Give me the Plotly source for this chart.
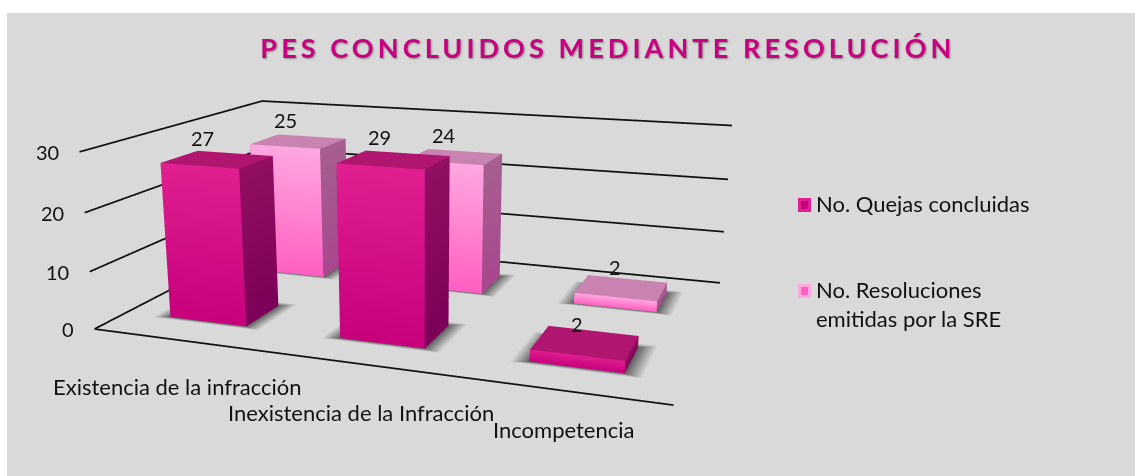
"""PES concluidos mediante resolución: barras 3D en perspectiva (Mesh3d)."""
import plotly.graph_objects as go

TITLE = "PES CONCLUIDOS MEDIANTE RESOLUCIÓN"
CATEGORIES = ["Existencia de la infracción", "Inexistencia de la Infracción", "Incompetencia"]
QUEJAS = [27, 29, 2]
RESOLUCIONES = [25, 24, 2]
TICKS = [0, 10, 20, 30]
LEGEND_NAMES = ["No. Quejas concluidas", "No. Resoluciones<br>emitidas por la SRE"]

BG = "#d9d9d9"
INK = "#111111"
FONT = "Lato, 'Open Sans', sans-serif"
MAGENTA = "#c9007f"

# colores por serie: cara frontal (arriba, abajo), lateral (arriba, abajo), tapa
DARK = dict(front=("#e01f90", "#c8007c"), side=("#910f62", "#7c0058"), top="#b0166f")
LIGHT = dict(front=("#ffa8e0", "#ff5fc2"), side=("#a6608f", "#a8478f"), top="#c883b1")

# la cámara de Plotly tiene fov fijo de 45°: para una perspectiva tan suave hace falta
# un viewport alto, así que la figura sobresale de la ventana y se recorta
WIDTH, HEIGHT = 1128, 950
LEFT, TOP = 7, -203
HALF_W, HALF_D = 0.23, 0.095
ROW_Y = [0.25, 0.745]


def paper_x(px):
    return (px - LEFT) / WIDTH


def paper_y(py):
    return 1 - (py - TOP) / HEIGHT


def bars_mesh(values, row_y, colors, name):
    """Un Mesh3d con una caja por categoría; caras separadas para poder degradar."""
    xs, ys, zs, ii, jj, kk, vc = [], [], [], [], [], [], []

    def quad(corners, cols):
        n = len(xs)
        for (x, y, z), c in zip(corners, cols):
            xs.append(x), ys.append(y), zs.append(z), vc.append(c)
        ii.extend([n, n])
        jj.extend([n + 1, n + 2])
        kk.extend([n + 2, n + 3])

    for cat, v in enumerate(values):
        x0, x1 = cat + 0.5 - HALF_W, cat + 0.5 + HALF_W
        y0, y1 = row_y - HALF_D, row_y + HALF_D
        ft, fb = colors["front"]
        st, sb = colors["side"]
        quad([(x0, y0, 0), (x1, y0, 0), (x1, y0, v), (x0, y0, v)], [fb, fb, ft, ft])
        quad([(x1, y0, 0), (x1, y1, 0), (x1, y1, v), (x1, y0, v)], [sb, sb, st, st])
        quad([(x0, y1, 0), (x0, y0, 0), (x0, y0, v), (x0, y1, v)], [sb, sb, st, st])
        quad([(x0, y0, v), (x1, y0, v), (x1, y1, v), (x0, y1, v)], [colors["top"]] * 4)
    return go.Mesh3d(x=xs, y=ys, z=zs, i=ii, j=jj, k=kk, vertexcolor=vc, name=name,
                     lighting=dict(ambient=1, diffuse=0, specular=0, fresnel=0),
                     hoverinfo="name")


def shadow_mesh(row_y):
    """Sombra difusa sobre el suelo: anillo de gris oscuro hacia el fondo."""
    xs, ys, zs, ii, jj, kk, vc = [], [], [], [], [], [], []
    for cat in range(len(CATEGORIES)):
        x0, x1 = cat + 0.5 - HALF_W, cat + 0.5 + HALF_W
        y0, y1 = row_y - HALF_D, row_y + HALF_D
        inner = [(x0, y0), (x1, y0), (x1, y1), (x0, y1)]
        outer = [(x0 - 0.09, y0 - 0.018), (x1 + 0.09, y0 - 0.018),
                 (x1 + 0.09, y1 + 0.03), (x0 - 0.09, y1 + 0.03)]
        n = len(xs)
        for (x, y) in inner + outer:
            xs.append(x), ys.append(y), zs.append(0.03)
        vc.extend(["#5f5f5f"] * 4 + [BG] * 4)
        for a in range(4):
            b = (a + 1) % 4
            ii.extend([n + a, n + a])
            jj.extend([n + b, n + 4 + b])
            kk.extend([n + 4 + b, n + 4 + a])
    return go.Mesh3d(x=xs, y=ys, z=zs, i=ii, j=jj, k=kk, vertexcolor=vc, hoverinfo="skip",
                     lighting=dict(ambient=1, diffuse=0, specular=0, fresnel=0))


def frame_lines():
    xs, ys, zs = [], [], []
    for z in TICKS:
        xs += [0, 0, 3, None]
        ys += [0, 1, 1, None]
        zs += [z, z, z, None]
    xs += [0, 3]
    ys += [0, 0]
    zs += [0, 0]
    return go.Scatter3d(x=xs, y=ys, z=zs, mode="lines", line=dict(color=INK, width=3.5),
                        hoverinfo="skip", showlegend=False)


def scene_note(x, y, z, text, size, dx=0, dy=0, anchor="center"):
    return dict(x=x, y=y, z=z, text=text, showarrow=False, xanchor=anchor, xshift=dx, yshift=dy,
                font=dict(family=FONT, size=size, color=INK))


def paper_note(px, py, text, font, anchor="center", align="left"):
    return dict(x=paper_x(px), y=paper_y(py), xref="paper", yref="paper", text=text, showarrow=False,
                xanchor=anchor, yanchor="middle", align=align, font=font)


def swatch(y0, y1, inset, color):
    return dict(type="rect", xref="paper", yref="paper", line_width=0, fillcolor=color,
                x0=paper_x(798 + inset), x1=paper_x(811 - inset),
                y0=paper_y(y1 - inset), y1=paper_y(y0 + inset))


notes = [scene_note(0, 0, t, str(t), 20, dx=-18.5, anchor="right") for t in TICKS]
QUEJAS_SHIFT = [(-15, 21), (-15, 23), (-8, 19)]
RESOL_SHIFT = [(-13, 21), (-11, 22), (-7, 21)]
CAT_SHIFT = [(0, -47), (3, -49), (2, -39)]
for i, (v, s) in enumerate(zip(QUEJAS, QUEJAS_SHIFT)):
    notes.append(scene_note(i + 0.5, ROW_Y[0], v, str(v), 20, s[0], s[1]))
for i, (v, s) in enumerate(zip(RESOLUCIONES, RESOL_SHIFT)):
    notes.append(scene_note(i + 0.5, ROW_Y[1], v, str(v), 20, s[0], s[1]))
for i, (c, s) in enumerate(zip(CATEGORIES, CAT_SHIFT)):
    notes.append(scene_note(i + 0.5, 0, 0, c, 22, s[0], s[1]))

fig = go.Figure([
    shadow_mesh(ROW_Y[1]), shadow_mesh(ROW_Y[0]),
    bars_mesh(RESOLUCIONES, ROW_Y[1], LIGHT, "No. Resoluciones emitidas por la SRE"),
    bars_mesh(QUEJAS, ROW_Y[0], DARK, "No. Quejas concluidas"),
    frame_lines(),
])

hidden = dict(visible=False, showgrid=False, zeroline=False, showspikes=False, autorange=False)
legend_font = dict(family=FONT, size=22, color=INK)
fig.update_layout(
    width=WIDTH, height=HEIGHT, margin=dict(l=0, r=0, t=0, b=0),
    paper_bgcolor=BG, showlegend=False, font=dict(family=FONT, color=INK),
    scene=dict(
        domain=dict(x=[0, 0.7351], y=[0, 1]),
        xaxis=dict(hidden, range=[0, 3]),
        yaxis=dict(hidden, range=[0, 1]),
        zaxis=dict(hidden, range=[0, 30]),
        aspectmode="manual", aspectratio=dict(x=2, y=1.314, z=0.6262),
        camera=dict(eye=dict(x=1.3626, y=-3.8369, z=1.0033),
                    center=dict(x=-0.0325, y=0.0309, z=-0.1986),
                    up=dict(x=0, y=0, z=1),
                    projection=dict(type="perspective")),
        annotations=notes,
    ),
    annotations=[
        paper_note(608, 48, TITLE, dict(family=FONT, size=27, color=MAGENTA, weight=700,
                                        shadow="1px 1px 2px #8a8a8a"), align="center"),
        paper_note(814, 203, LEGEND_NAMES[0], legend_font, anchor="left"),
        paper_note(814, 304, LEGEND_NAMES[1], legend_font, anchor="left"),
    ],
    shapes=[
        swatch(198, 212, 0, DARK["front"][0]), swatch(198, 212, 3, DARK["front"][1]),
        swatch(284, 298, 0, LIGHT["front"][0]), swatch(284, 298, 3, LIGHT["front"][1]),
    ],
)

# coloca la figura en la ventana y separa las letras del título
POST = f"""
document.documentElement.style.overflow = 'hidden';
document.body.style.margin = '0';
var gd = document.getElementById('{{plot_id}}');
gd.style.position = 'absolute';
gd.style.left = '{LEFT}px';
gd.style.top = '{TOP}px';
gd.style.clipPath = 'inset({13 - TOP}px 0 0 0)';
document.querySelectorAll('.annotation-text').forEach(function (t) {{
  if (t.textContent.indexOf('PES') === 0) t.style.letterSpacing = '4.1px';
}});
"""
fig.write_html("out.html", post_script=POST)
